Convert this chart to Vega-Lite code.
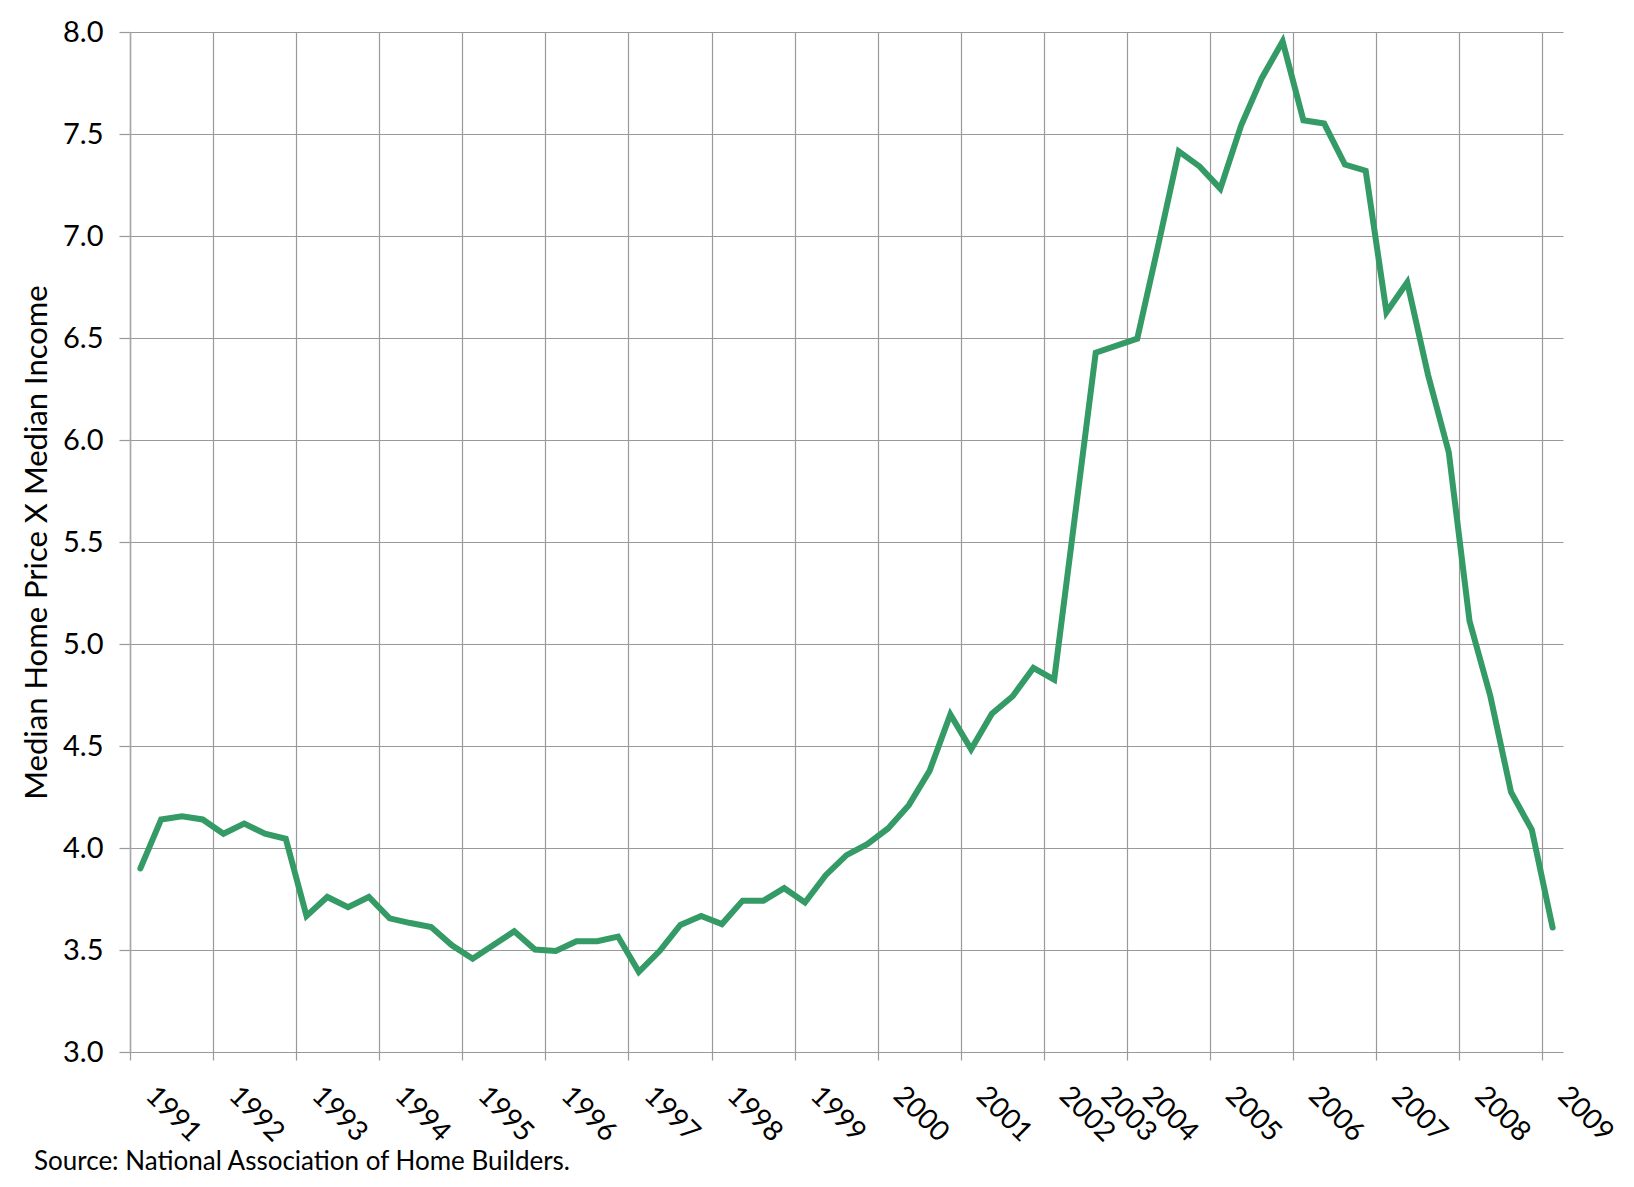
{
  "$schema": "https://vega.github.io/schema/vega-lite/v6.json",
  "width": 1433,
  "height": 1020,
  "autosize": {"type": "none"},
  "padding": {"left": 130, "top": 32, "right": 71, "bottom": 135},
  "background": "white",
  "config": {"view": {"stroke": null}, "font": "Lato"},
  "title": {
    "text": "Source: National Association of Home Builders.",
    "orient": "bottom",
    "anchor": "start",
    "frame": "group",
    "dx": -96,
    "offset": 2,
    "fontSize": 26,
    "fontWeight": "normal",
    "font": "Lato",
    "color": "black"
  },
  "layer": [
    {
      "data": {
        "values": [
          {"i": 0, "v": 3.9}, {"i": 1, "v": 4.14}, {"i": 2, "v": 4.155}, {"i": 3, "v": 4.14},
          {"i": 4, "v": 4.07}, {"i": 5, "v": 4.12}, {"i": 6, "v": 4.07}, {"i": 7, "v": 4.045},
          {"i": 8, "v": 3.667}, {"i": 9, "v": 3.76}, {"i": 10, "v": 3.71}, {"i": 11, "v": 3.76},
          {"i": 12, "v": 3.655}, {"i": 13, "v": 3.632}, {"i": 14, "v": 3.613}, {"i": 15, "v": 3.523},
          {"i": 16, "v": 3.457}, {"i": 17, "v": 3.524}, {"i": 18, "v": 3.592}, {"i": 19, "v": 3.502},
          {"i": 20, "v": 3.495}, {"i": 21, "v": 3.543}, {"i": 22, "v": 3.543}, {"i": 23, "v": 3.566},
          {"i": 24, "v": 3.393}, {"i": 25, "v": 3.495}, {"i": 26, "v": 3.623}, {"i": 27, "v": 3.667},
          {"i": 28, "v": 3.627}, {"i": 29, "v": 3.742}, {"i": 30, "v": 3.742}, {"i": 31, "v": 3.803},
          {"i": 32, "v": 3.733}, {"i": 33, "v": 3.867}, {"i": 34, "v": 3.965}, {"i": 35, "v": 4.019},
          {"i": 36, "v": 4.096}, {"i": 37, "v": 4.21}, {"i": 38, "v": 4.378}, {"i": 39, "v": 4.655},
          {"i": 40, "v": 4.484}, {"i": 41, "v": 4.658}, {"i": 42, "v": 4.744}, {"i": 43, "v": 4.883},
          {"i": 44, "v": 4.825}, {"i": 46, "v": 6.428}, {"i": 48, "v": 6.497}, {"i": 49, "v": 6.95},
          {"i": 50, "v": 7.415}, {"i": 51, "v": 7.341}, {"i": 52, "v": 7.232}, {"i": 53, "v": 7.541},
          {"i": 54, "v": 7.775}, {"i": 55, "v": 7.954}, {"i": 56, "v": 7.567}, {"i": 57, "v": 7.551},
          {"i": 58, "v": 7.35}, {"i": 59, "v": 7.32}, {"i": 60, "v": 6.626}, {"i": 61, "v": 6.773},
          {"i": 62, "v": 6.32}, {"i": 63, "v": 5.94}, {"i": 64, "v": 5.112}, {"i": 65, "v": 4.745},
          {"i": 66, "v": 4.273}, {"i": 67, "v": 4.089}, {"i": 68, "v": 3.61}
        ]
      },
      "mark": {"type": "line", "color": "#349a66", "strokeWidth": 6, "strokeCap": "round"},
      "encoding": {
        "x": {
          "field": "i",
          "type": "quantitative",
          "title": null,
          "scale": {"domain": [-0.5, 68.5], "nice": false, "zero": false},
          "axis": {
            "values": [-0.5, 3.5, 7.5, 11.5, 15.5, 19.5, 23.5, 27.5, 31.5, 35.5, 39.5, 43.5, 47.5, 51.5, 55.5, 59.5, 63.5, 67.5],
            "grid": true,
            "gridColor": "#999999",
            "gridWidth": 1.2,
            "labels": false,
            "ticks": true,
            "tickSize": 8,
            "tickColor": "#999999",
            "tickWidth": 1.2,
            "domain": false
          }
        },
        "y": {
          "field": "v",
          "type": "quantitative",
          "title": "Median Home Price X Median Income",
          "scale": {"domain": [3, 8], "nice": false, "zero": false},
          "axis": {
            "values": [3, 3.5, 4, 4.5, 5, 5.5, 6, 6.5, 7, 7.5, 8],
            "format": ".1f",
            "grid": true,
            "gridColor": "#999999",
            "gridWidth": 1.2,
            "ticks": true,
            "tickSize": 11,
            "tickColor": "#999999",
            "tickWidth": 1.2,
            "domain": true,
            "domainColor": "#a6a6a6",
            "domainWidth": 1.5,
            "labelFont": "Lato",
            "labelFontSize": 29,
            "labelColor": "black",
            "labelPadding": 16,
            "titleFont": "Lato",
            "titleFontSize": 31,
            "titleFontWeight": "normal",
            "titleColor": "black",
            "titlePadding": 9
          }
        }
      }
    },
    {
      "data": {
        "values": [
          {"year": "1991", "pos": 1.5}, {"year": "1992", "pos": 5.5}, {"year": "1993", "pos": 9.5},
          {"year": "1994", "pos": 13.5}, {"year": "1995", "pos": 17.5}, {"year": "1996", "pos": 21.5},
          {"year": "1997", "pos": 25.5}, {"year": "1998", "pos": 29.5}, {"year": "1999", "pos": 33.5},
          {"year": "2000", "pos": 37.5}, {"year": "2001", "pos": 41.5}, {"year": "2002", "pos": 45.5},
          {"year": "2003", "pos": 47.5}, {"year": "2004", "pos": 49.5}, {"year": "2005", "pos": 53.5},
          {"year": "2006", "pos": 57.5}, {"year": "2007", "pos": 61.5}, {"year": "2008", "pos": 65.5},
          {"year": "2009", "pos": 69.5}
        ]
      },
      "mark": {"type": "text", "angle": 45, "align": "center", "baseline": "middle", "fontSize": 28, "font": "Lato", "color": "black", "clip": false, "dx": 2},
      "encoding": {
        "x": {"field": "pos", "type": "quantitative", "title": null},
        "y": {"datum": 2.7, "title": null},
        "text": {"field": "year"}
      }
    }
  ]
}
